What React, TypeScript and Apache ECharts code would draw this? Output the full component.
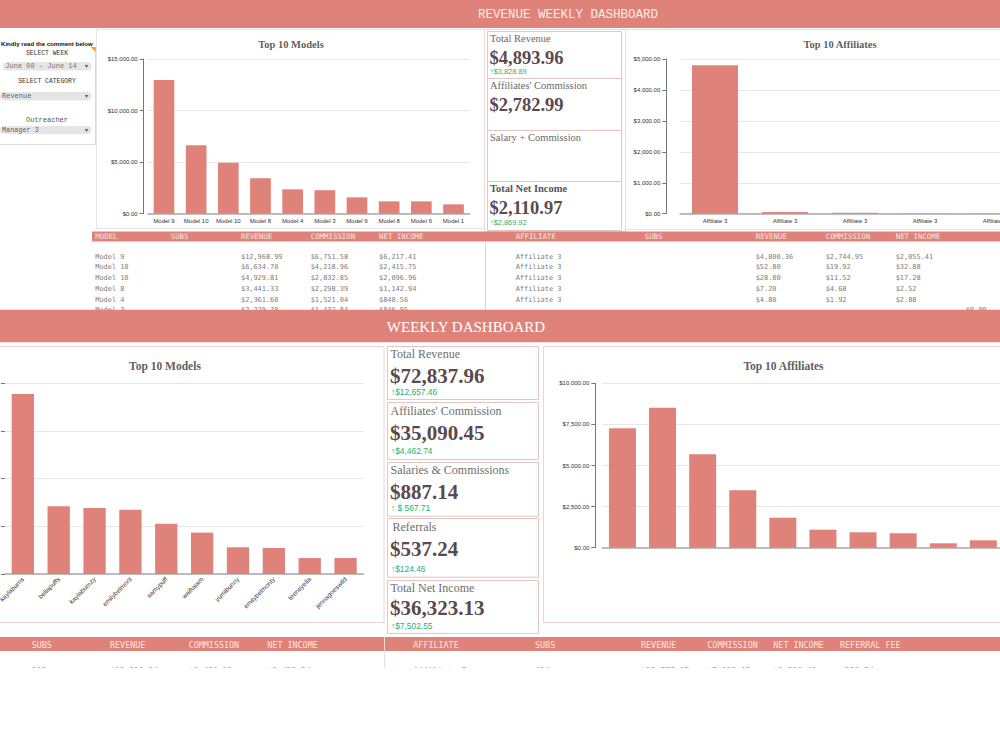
import React, { useEffect, useRef } from "react";
import * as echarts from "echarts";

// ---------- DATA ----------
const topModelNames = ["Model 9", "Model 10", "Model 10", "Model 8", "Model 4", "Model 3", "Model 9", "Model 8", "Model 6", "Model 1"];
const topModelRevenue = [12968.99, 6634.7, 4929.81, 3441.33, 2361.6, 2279.79, 1584, 1196, 1196, 905];
const topModelTicks = [0, 5000, 10000, 15000];

const topAffiliateNames = ["Affiliate 3", "Affiliate 3", "Affiliate 3", "Affiliate 3", "Affiliate 3"];
const topAffiliateRevenue = [4800.36, 52.8, 28.8, 7.2, 4.8];
const topAffiliateCommission = [2744.95, 19.92, 11.52, 4.68, 1.92];
const topAffiliateNet = [2055.41, 32.88, 17.28, 2.52, 2.88];
const topAffiliateTicks = [0, 1000, 2000, 3000, 4000, 5000];

const topTableModels = ["Model 9", "Model 10", "Model 10", "Model 8", "Model 4", "Model 3"];
const topTableRevenue = [12968.99, 6634.7, 4929.81, 3441.33, 2361.6, 2279.79];
const topTableCommission = [6751.58, 4218.96, 2832.85, 2298.39, 1521.04, 1432.84];
const topTableNet = [6217.41, 2415.75, 2096.96, 1142.94, 840.56, 846.95];

const topKpiLabels = ["Total Revenue", "Affiliates' Commission", "Salary + Commission", "Total Net Income"];
const topKpiValues = ["$4,893.96", "$2,782.99", "", "$2,110.97"];
const topKpiDeltas = ["$3,828.89", "", "", "$2,869.92"];

const weeklyModelNames = ["kaylaburns", "bellapuffs", "kaylaburnzy", "emilybelmont", "samypuff", "waifusam", "yumibunny", "emilybelmonty", "teensyella", "jennagoeswild"];
const weeklyModelRevenue = [18870, 7110, 6930, 6750, 5280, 4340, 2800, 2730, 1680, 1680];
const weeklyModelTicks = [0, 5000, 10000, 15000, 20000];

const weeklyAffiliateNames = ["Affiliate 1", "Affiliate 2", "Affiliate 3", "Affiliate 4", "Affiliate 5", "Affiliate 6", "Affiliate 7", "Affiliate 8", "Affiliate 9", "Affiliate 10"];
const weeklyAffiliateRevenue = [7263, 8516, 5681, 3491, 1825, 1095, 937, 876, 268, 450];
const weeklyAffiliateTicks = [0, 2500, 5000, 7500, 10000];

const weeklyKpiLabels = ["Total Revenue", "Affiliates' Commission", "Salaries & Commissions", "Referrals", "Total Net Income"];
const weeklyKpiValues = ["$72,837.96", "$35,090.45", "$887.14", "$537.24", "$36,323.13"];
const weeklyKpiDeltas = ["$12,657.46", "$4,462.74", " $ 567.71", "$124.46", "$7,502.55"];

const topLeftHeaders = ["MODEL", "SUBS", "REVENUE", "COMMISSION", "NET INCOME"];
const topRightHeaders = ["AFFILIATE", "SUBS", "REVENUE", "COMMISSION", "NET INCOME"];
const bottomLeftHeaders = ["SUBS", "REVENUE", "COMMISSION", "NET INCOME"];
const bottomRightHeaders = ["AFFILIATE", "SUBS", "REVENUE", "COMMISSION", "NET INCOME", "REFERRAL FEE"];
const bottomLeftRow = ["103", "$18,919.54", "$9,480.30", "$9,439.24"];
const bottomRightRow = ["Affiliate 7", "454", "$15,777.07", "$7,838.93", "$8,599.40", "$338.74"];

const weekOptions = ["June 08 - June 14"];
const categoryOptions = ["Revenue"];
const outreacherOptions = ["Manager 3"];

// ---------- STYLE ----------
const SALMON = "#df837a";
const MONO = "'DejaVu Sans Mono', monospace";
const COURIER = "'Liberation Mono', 'Courier New', monospace";
const SERIF = "'Liberation Serif', 'Times New Roman', serif";
const SANS = "'Liberation Sans', Arial, sans-serif";
const VALUE_COLOR = "#5a4a50";
const GREEN = "#2eae6a";

const fmt = (v: number) =>
  "$" + v.toLocaleString("en-US", { minimumFractionDigits: 2, maximumFractionDigits: 2 });

function txt(text: string, x: number, y: number, font: string, fill: string, align = "left", z = 5): any {
  return {
    type: "text",
    z,
    silent: true,
    style: { text, x, y, font, fill, textAlign: align, textVerticalAlign: "middle" },
  };
}
function rect(x: number, y: number, w: number, h: number, style: any, z = 0, r = 0): any {
  return { type: "rect", z, silent: true, shape: { x, y, width: w, height: h, r }, style };
}
function line(x1: number, y1: number, x2: number, y2: number, stroke: string, z = 1, lw = 1): any {
  return { type: "line", z, silent: true, shape: { x1, y1, x2, y2 }, style: { stroke, lineWidth: lw } };
}

function yAxisCfg(gridIndex: number, ticks: number[], offset: number, showLabels = true, showLine = true): any {
  return {
    type: "value",
    gridIndex,
    min: ticks[0],
    max: ticks[ticks.length - 1],
    interval: ticks[1] - ticks[0],
    offset,
    axisLine: { show: showLine, lineStyle: { color: "#777", width: 1 } },
    axisTick: { show: true, length: 4, lineStyle: { color: "#777" } },
    axisLabel: { show: showLabels, fontSize: 6, color: "#333", fontFamily: SANS, margin: 6, formatter: (v: number) => fmt(v) },
    splitLine: { lineStyle: { color: "#e6e6e6", width: 1 } },
  };
}
function xAxisCfg(gridIndex: number, data: string[], label: any): any {
  return {
    type: "category",
    gridIndex,
    data,
    axisLine: { lineStyle: { color: "#aaa", width: 1.5 } },
    axisTick: { show: false },
    axisLabel: { fontSize: 6, color: "#333", fontFamily: SANS, margin: 4, interval: 0, ...label },
  };
}

function buildOption(): any {
  const g: any[] = [];

  // top header band
  g.push(rect(0, 0, 1000, 28, { fill: SALMON }, 1));
  g.push(txt("REVENUE WEEKLY DASHBOARD", 568, 14.5, `12.5px ${COURIER}`, "#fbeae7", "center", 2));

  // control panel
  g.push(txt("Kindly read the comment below", 1, 43, `bold 6.1px ${SANS}`, "#111"));
  g.push(line(95.5, 47, 95.5, 145, "#d9d9d9"));
  g.push(line(0, 144.5, 95.5, 144.5, "#d9d9d9"));
  g.push({ type: "polygon", z: 3, silent: true, shape: { points: [[90.5, 47], [95.5, 47], [95.5, 52]] }, style: { fill: "#f0a03c" } });
  g.push(txt("SELECT WEEK", 47, 53, `6.4px ${COURIER}`, "#333", "center"));
  g.push(rect(3, 62, 88.5, 8.5, { fill: "#e5e5e5" }, 1, 4));
  g.push(txt(weekOptions[0], 41, 66.4, `7px ${COURIER}`, "#777", "center"));
  g.push(txt("▾", 86, 66.2, `6px ${SANS}`, "#555", "center"));
  g.push(txt("SELECT CATEGORY", 47, 81, `6.4px ${COURIER}`, "#333", "center"));
  g.push(rect(0, 92, 91.5, 8.5, { fill: "#e5e5e5" }, 1, 4));
  g.push(txt(categoryOptions[0], 2, 96.4, `7px ${COURIER}`, "#666"));
  g.push(txt("▾", 86, 96.2, `6px ${SANS}`, "#555", "center"));
  g.push(txt("Outreacher", 47, 120, `7px ${COURIER}`, "#555", "center"));
  g.push(rect(0, 126, 91.5, 8, { fill: "#e5e5e5" }, 1, 4));
  g.push(txt(outreacherOptions[0], 2, 130.2, `6.8px ${COURIER}`, "#666"));
  g.push(txt("▾", 86, 130, `6px ${SANS}`, "#555", "center"));

  // top chart boxes
  g.push(rect(96.5, 29.5, 388, 199, { fill: "none", stroke: "#dfe5e8", lineWidth: 1 }, 0));
  g.push(rect(625.5, 29.5, 380, 200, { fill: "none", stroke: "#e2e2e2", lineWidth: 1 }, 0));
  g.push(txt("Top 10 Models", 291, 44.5, `bold 10.5px ${SERIF}`, "#5f5f5f", "center"));
  g.push(txt("Top 10 Affiliates", 840, 44.5, `bold 10.5px ${SERIF}`, "#5f5f5f", "center"));

  // top KPI column
  g.push(rect(484.5, 29.5, 141, 202, { fill: "none", stroke: "#efd9d6", lineWidth: 1 }, 0));
  const topCardTop = [31, 78, 130, 181];
  const topCardBottom = [78, 130, 181, 230];
  const topLabelY = [38.7, 85.3, 137.3, 188.7];
  const topValueY = [58, 104.7, 0, 208];
  const topDeltaY = [71, 0, 0, 222.3];
  topKpiLabels.forEach((lab, i) => {
    g.push(rect(487.5, topCardTop[i] + 0.5, 134, topCardBottom[i] - topCardTop[i], { fill: "none", stroke: "#e2c6c2", lineWidth: 1 }, 1));
    const bold = i === 3;
    g.push(txt(lab, 490, topLabelY[i], `${bold ? "bold " : ""}10.5px ${SERIF}`, bold ? "#555" : "#6a6a6a"));
    if (topKpiValues[i]) g.push(txt(topKpiValues[i], 489.5, topValueY[i], `bold 18.5px ${SERIF}`, VALUE_COLOR));
    if (topKpiDeltas[i]) g.push(txt("↑" + topKpiDeltas[i], 490, topDeltaY[i], `7.4px ${SANS}`, GREEN));
  });

  // top tables
  g.push(rect(92, 231.5, 908, 10, { fill: SALMON }, 2));
  g.push(line(485.5, 241, 485.5, 310, "#ecd0cc", 1));
  const leftX = [95.3, 170.7, 241, 310.7, 379];
  const rightX = [515.7, 644.7, 755.7, 825.7, 895.7];
  topLeftHeaders.forEach((h, i) => g.push(txt(h, leftX[i], 236.6, `7.4px ${MONO}`, "#fbe3df", "left", 3)));
  topRightHeaders.forEach((h, i) => g.push(txt(h, rightX[i], 236.6, `7.4px ${MONO}`, "#fbe3df", "left", 3)));
  const rowY = [256.7, 267.3, 278, 289, 299.7, 310.3];
  const rowFont = `6.9px ${MONO}`;
  const rowFill = "#7c7c7c";
  topTableModels.forEach((m, i) => {
    g.push(txt(m, leftX[0], rowY[i], rowFont, rowFill));
    g.push(txt(fmt(topTableRevenue[i]), leftX[2], rowY[i], rowFont, rowFill));
    g.push(txt(fmt(topTableCommission[i]), leftX[3], rowY[i], rowFont, rowFill));
    g.push(txt(fmt(topTableNet[i]), leftX[4], rowY[i], rowFont, rowFill));
  });
  topAffiliateNames.forEach((a, i) => {
    g.push(txt(a, rightX[0], rowY[i], rowFont, rowFill));
    g.push(txt(fmt(topAffiliateRevenue[i]), rightX[2], rowY[i], rowFont, rowFill));
    g.push(txt(fmt(topAffiliateCommission[i]), rightX[3], rowY[i], rowFont, rowFill));
    g.push(txt(fmt(topAffiliateNet[i]), rightX[4], rowY[i], rowFont, rowFill));
  });
  g.push(txt(fmt(0), 965.7, 309.8, rowFont, rowFill));

  // middle band
  g.push(rect(0, 309.7, 1000, 32.5, { fill: SALMON }, 50));
  g.push(txt("WEEKLY DASHBOARD", 466, 326.5, `15px ${SERIF}`, "#ffffff", "center", 51));

  // lower boxes
  g.push(rect(-1, 346.5, 385, 276, { fill: "none", stroke: "#efd3cf", lineWidth: 1 }, 0));
  g.push(rect(543.5, 346.5, 470, 276, { fill: "none", stroke: "#efd3cf", lineWidth: 1 }, 0));
  g.push(txt("Top 10 Models", 165, 365.5, `bold 11.5px ${SERIF}`, "#5f5f5f", "center"));
  g.push(txt("Top 10 Affiliates", 783.5, 365.5, `bold 11.5px ${SERIF}`, "#5f5f5f", "center"));

  // lower KPI cards
  const wCardTop = [346, 402, 462, 518, 580];
  const wCardBottom = [399, 459, 515.7, 576.7, 633];
  const wLabelY = [354, 410.7, 470, 526.7, 588];
  const wValueY = [375.5, 433, 491.7, 549, 608];
  const wDeltaY = [391.7, 451, 508, 568.7, 625.7];
  weeklyKpiLabels.forEach((lab, i) => {
    g.push(rect(387.5, wCardTop[i] + 0.5, 151, wCardBottom[i] - wCardTop[i], { fill: "none", stroke: "#e6c5c1", lineWidth: 1 }, 1));
    g.push(txt(lab, i === 3 ? 392.5 : 390.5, wLabelY[i], `12px ${SERIF}`, "#6e6e6e"));
    g.push(txt(weeklyKpiValues[i], 390, wValueY[i], `bold 21px ${SERIF}`, VALUE_COLOR));
    g.push(txt("↑" + weeklyKpiDeltas[i], 391, wDeltaY[i], `8.4px ${SANS}`, GREEN));
  });

  // bottom tables
  g.push(rect(0, 637, 1000, 14, { fill: SALMON }, 2));
  g.push(line(384.5, 637, 384.5, 668, "#f3d9d5", 3));
  const bLeftX = [31.7, 110, 188.7, 267.3];
  const bRightX = [413.3, 535, 641, 707.3, 773.3, 840];
  bottomLeftHeaders.forEach((h, i) => g.push(txt(h, bLeftX[i], 644.5, `8.4px ${MONO}`, "#fbe3df", "left", 3)));
  bottomRightHeaders.forEach((h, i) => g.push(txt(h, bRightX[i], 644.5, `8.4px ${MONO}`, "#fbe3df", "left", 3)));
  bottomLeftRow.forEach((t, i) => g.push(txt(t, bLeftX[i], 671, `8px ${MONO}`, "#888")));
  bottomRightRow.forEach((t, i) => g.push(txt(t, bRightX[i], 671, `8px ${MONO}`, "#888")));
  g.push(rect(0, 667.8, 1000, 90, { fill: "#ffffff" }, 50));

  return {
    animation: false,
    backgroundColor: "#ffffff",
    graphic: { elements: g },
    grid: [
      { left: 147.9, top: 59, width: 321.7, height: 154.7, outerBoundsMode: "none", containLabel: false },
      { left: 680, top: 59, width: 350, height: 154.7, outerBoundsMode: "none", containLabel: false },
      { left: 4.9, top: 383.3, width: 358.6, height: 190.7, outerBoundsMode: "none", containLabel: false },
      { left: 602.4, top: 383.3, width: 401, height: 164.4, outerBoundsMode: "none", containLabel: false },
    ],
    xAxis: [
      xAxisCfg(0, topModelNames, {}),
      xAxisCfg(1, topAffiliateNames, {}),
      xAxisCfg(2, weeklyModelNames, { rotate: 45, fontSize: 6.5 }),
      xAxisCfg(3, weeklyAffiliateNames, { show: false }),
    ],
    yAxis: [
      yAxisCfg(0, topModelTicks, 4.2),
      yAxisCfg(1, topAffiliateTicks, 13.7),
      yAxisCfg(2, weeklyModelTicks, 0, false, false),
      yAxisCfg(3, weeklyAffiliateTicks, 7.1),
    ],
    series: [
      { type: "bar", xAxisIndex: 0, yAxisIndex: 0, data: topModelRevenue, barWidth: 20.7, itemStyle: { color: SALMON } },
      { type: "bar", xAxisIndex: 1, yAxisIndex: 1, data: topAffiliateRevenue, barWidth: 46, itemStyle: { color: SALMON } },
      { type: "bar", xAxisIndex: 2, yAxisIndex: 2, data: weeklyModelRevenue, barWidth: 22.3, itemStyle: { color: SALMON } },
      { type: "bar", xAxisIndex: 3, yAxisIndex: 3, data: weeklyAffiliateRevenue, barWidth: 27, itemStyle: { color: SALMON } },
    ],
  };
}

export default function App() {
  const ref = useRef<HTMLDivElement>(null);
  useEffect(() => {
    if (!ref.current) return;
    const chart = echarts.init(ref.current, null, { renderer: "svg" });
    chart.setOption(buildOption());
    return () => chart.dispose();
  }, []);
  return (
    <div
      ref={ref}
      style={{ position: "absolute", left: 0, top: 0, width: 1000, height: 750, background: "#fff", overflow: "hidden" }}
    />
  );
}
